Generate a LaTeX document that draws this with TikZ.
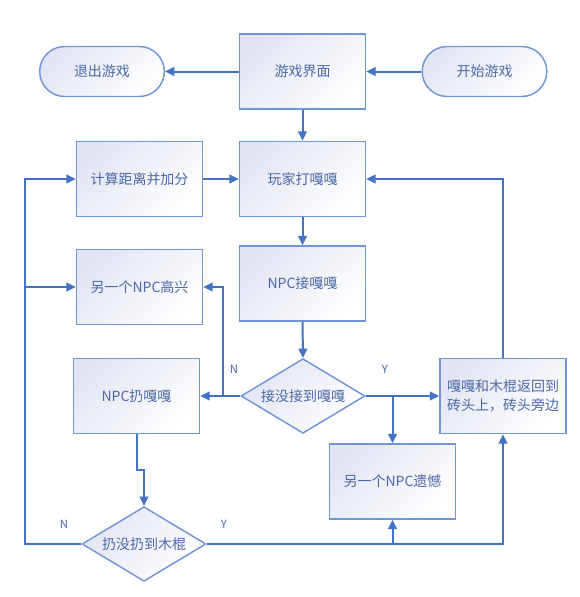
\documentclass[tikz,border=0pt]{standalone}
\usepackage{fontspec}
\setmainfont{Noto Sans CJK SC}
\usetikzlibrary{shapes.geometric,arrows.meta}
\definecolor{linec}{HTML}{4472C4}
\definecolor{borderc}{HTML}{7096D6}
\definecolor{txtc}{HTML}{4A69A8}
\definecolor{lav}{HTML}{E2E5F3}
\begin{document}
\begin{tikzpicture}[x=0.75pt,y=-0.75pt,
  base/.style={draw=borderc,line width=1.1pt,top color=lav,bottom color=white,shading angle=45,
    text=txtc,font=\fontsize{10.5}{14}\selectfont,align=center,inner sep=0pt},
  proc/.style={base,rectangle,minimum width=94.5pt,minimum height=56.25pt},
  term/.style={base,rectangle,rounded corners=18.75pt,minimum width=93.5pt,minimum height=37.5pt},
  dia/.style={base,diamond,minimum width=93pt,minimum height=56pt},
  txt/.style={text=txtc,font=\fontsize{10.5}{14}\selectfont,align=center,inner sep=0pt},
  lab/.style={text=txtc,font=\fontsize{8.5}{10}\selectfont,inner sep=0pt},
  arr/.style={draw=linec,line width=1.5pt,-{Triangle[length=7pt,width=6.5pt]}},
  ln/.style={draw=linec,line width=1.5pt}]
\useasboundingbox (0,0) rectangle (580,597);
\fill[white] (0,0) rectangle (580,597);
% nodes
\node[proc] (game) at (302.5,71.5) {游戏界面};
\node[term] (exit) at (102,71.5) {退出游戏};
\node[term] (start) at (484.5,71.5) {开始游戏};
\node[proc] (calc) at (139.5,179) {计算距离并加分};
\node[proc] (play) at (302.5,179) {玩家打嘎嘎};
\node[proc] (catch) at (302.5,283.5) {NPC接嘎嘎};
\node[proc] (happy) at (139.5,287) {另一个NPC高兴};
\node[dia] (d1) at (303,396) {};
\node[txt] (d1t) at (d1.center) {接没接到嘎嘎};
\node[proc] (throw) at (136.5,396) {NPC扔嘎嘎};
\node[proc] (back) at (503,396) {嘎嘎和木棍返回到\\砖头上，砖头旁边};
\node[proc] (sad) at (392.5,481.5) {另一个NPC遗憾};
\node[dia] (d2) at (144,544) {};
\node[txt] (d2t) at (d2.center) {扔没扔到木棍};
% coordinates
\coordinate (jn) at (223,396);
\coordinate (lx) at (25,544);
\coordinate (jog) at (136.5,470);
% labels
\node[lab] (n1) at (234,369) {N};
\node[lab] (y1) at (385,369) {Y};
\node[lab] (n2) at (64,524) {N};
\node[lab] (y2) at (224,524) {Y};
% connectors
\draw[arr] (game.west) -- (exit.east);
\draw[arr] (start.west) -- (game.east);
\draw[arr] (game.south) -- (play.north);
\draw[arr] (calc.east) -- (play.west);
\draw[arr] (play.south) -- (catch.north);
\draw[arr] (catch.south) -- (d1.north);
\draw[arr] (d1.west) -- (throw.east);
\draw[arr] (jn) |- (happy.east);
\draw[arr] (d1.east) -- (back.west);
\draw[arr] (sad.north |- d1.east) -- (sad.north);
\draw[arr] (back.north) |- (play.east);
\draw[arr] (throw.south) -- (jog) -| (d2.north);
\draw[arr] (d2.west) -- (lx) |- (calc.west);
\draw[arr] (lx |- happy.west) -- (happy.west);
\draw[arr] (d2.east) -| (back.south);
\draw[arr] (sad.south |- d2.east) -- (sad.south);
\end{tikzpicture}
\end{document}
